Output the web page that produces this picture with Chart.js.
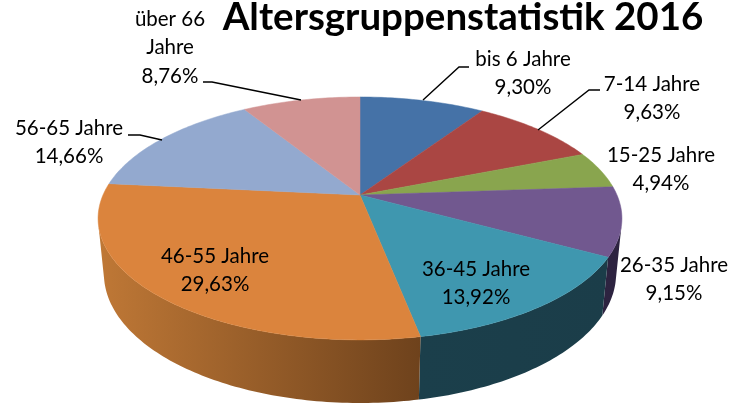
<!DOCTYPE html>
<html lang="de">

<head>
  <meta charset="UTF-8">
  <title>Altersgruppenstatistik 2016</title>
  <style>
    body { margin: 0; background: #fff; }
    canvas { display: block; }
  </style>
</head>

<body>
  <canvas id="pieChart" width="736" height="405"></canvas>
  <script src="https://cdn.jsdelivr.net/npm/chart.js"></script>
  <script>
    const titel = 'Altersgruppenstatistik 2016';
    const gruppen = ['bis 6 Jahre', '7-14 Jahre', '15-25 Jahre', '26-35 Jahre', '36-45 Jahre', '46-55 Jahre', '56-65 Jahre', 'über 66 Jahre'];
    const anteile = [9.30, 9.63, 4.94, 9.15, 13.92, 29.63, 14.66, 8.76];
    const farben = ['#4572A7', '#AA4643', '#89A54E', '#71588F', '#3F97AF', '#DB843D', '#93A9CF', '#D19392'];
    // Seitenwand: Farbe links und rechts
    const wandHell = ['#2B4870', '#722E2C', '#5B6E33', '#2D2340', '#1B3F4B', '#BF7836', '#61718A', '#8C6261'];
    const wandDunkel = ['#2B4870', '#722E2C', '#5B6E33', '#2D2340', '#1B3D49', '#6E421C', '#61718A', '#8C6261'];

    // Beschriftung: Mitte x, y der ersten Zeile, Zeilen
    const beschriftung = [
      { x: 523, y: 59, zeilen: ['bis 6 Jahre'] },
      { x: 652, y: 84, zeilen: ['7-14 Jahre'] },
      { x: 661, y: 155, zeilen: ['15-25 Jahre'] },
      { x: 674, y: 265, zeilen: ['26-35 Jahre'] },
      { x: 476, y: 269, zeilen: ['36-45 Jahre'] },
      { x: 215, y: 256, zeilen: ['46-55 Jahre'] },
      { x: 69, y: 128, zeilen: ['56-65 Jahre'] },
      { x: 170, y: 19, zeilen: ['über 66', 'Jahre'] }
    ];
    const fuehrungslinien = [
      [[469, 67], [459, 67], [423, 100]],
      [[600, 90], [589, 90], [538, 130]],
      [[203, 82], [212, 82], [301, 100]],
      [[128, 135], [140, 135], [162, 140]]
    ];

    // Perspektive der 3D-Torte
    const hoehe = 0.455;
    const neigung = 0.193;
    const tiefeY = 0.216;
    const tiefeZ = 0.022;

    function projiziere(el, winkel, z) {
      const u = Math.cos(winkel);
      const v = Math.sin(winkel);
      const r = el.outerRadius;
      const d = 1 - neigung * v + tiefeZ * z;
      return {
        x: el.x + r * u / d,
        y: el.y + r * (hoehe * v + tiefeY * z) / d
      };
    }

    function randPunkte(el, z) {
      const punkte = [];
      const schritte = Math.max(2, Math.ceil((el.endAngle - el.startAngle) * 60));
      for (let i = 0; i <= schritte; i++) {
        const w = el.startAngle + (el.endAngle - el.startAngle) * i / schritte;
        punkte.push(projiziere(el, w, z));
      }
      return punkte;
    }

    // Streifen zeigt nach vorn, wenn seine Fläche negativ ist
    function istVorne(a, b, c, d) {
      const q = [a, b, c, d];
      let summe = 0;
      q.forEach((p, i) => {
        const n = q[(i + 1) % 4];
        summe += p.x * n.y - n.x * p.y;
      });
      return summe < 0;
    }

    const torte3d = {
      id: 'torte3d',
      beforeDatasetsDraw(chart) {
        const ctx = chart.ctx;
        const bogen = chart.getDatasetMeta(0).data;

        // Seitenwände, nur der sichtbare vordere Teil
        bogen.forEach((el, i) => {
          const oben = randPunkte(el, 0);
          const unten = randPunkte(el, 1);
          const vorneOben = [];
          const vorneUnten = [];
          for (let k = 0; k < oben.length - 1; k++) {
            if (istVorne(oben[k], oben[k + 1], unten[k + 1], unten[k])) {
              if (!vorneOben.length) {
                vorneOben.push(oben[k]);
                vorneUnten.push(unten[k]);
              }
              vorneOben.push(oben[k + 1]);
              vorneUnten.push(unten[k + 1]);
            }
          }
          if (!vorneOben.length) return;

          const umriss = vorneOben.concat(vorneUnten.reverse());
          const xs = umriss.map(p => p.x);
          const grad = ctx.createLinearGradient(Math.min(...xs), 0, Math.max(...xs), 0);
          grad.addColorStop(0, wandHell[i]);
          grad.addColorStop(1, wandDunkel[i]);
          ctx.beginPath();
          umriss.forEach((p, k) => k ? ctx.lineTo(p.x, p.y) : ctx.moveTo(p.x, p.y));
          ctx.closePath();
          ctx.fillStyle = grad;
          ctx.fill();
        });

        bogen.forEach((el, i) => {
          ctx.beginPath();
          ctx.moveTo(el.x, el.y);
          randPunkte(el, 0).forEach(p => ctx.lineTo(p.x, p.y));
          ctx.closePath();
          ctx.fillStyle = farben[i];
          ctx.strokeStyle = farben[i];
          ctx.lineWidth = 0.5;
          ctx.fill();
          ctx.stroke();
        });

        // Führungslinien
        ctx.strokeStyle = '#000';
        ctx.lineWidth = 1.4;
        fuehrungslinien.forEach(linie => {
          ctx.beginPath();
          linie.forEach((p, k) => k ? ctx.lineTo(p[0], p[1]) : ctx.moveTo(p[0], p[1]));
          ctx.stroke();
        });

        // Beschriftungen
        ctx.fillStyle = '#000';
        ctx.textAlign = 'center';
        ctx.textBaseline = 'middle';
        ctx.font = '20.5px Lato';
        beschriftung.forEach((b, i) => {
          const zeilen = b.zeilen.concat(anteile[i].toFixed(2).replace('.', ',') + '%');
          zeilen.forEach((z, k) => ctx.fillText(z, b.x, b.y + k * 28.7));
        });

        ctx.font = 'bold 38.5px Lato';
        ctx.fillText(titel, 463, 18);
        return false;
      }
    };

    new Chart(document.getElementById('pieChart'), {
      type: 'pie',
      data: {
        labels: gruppen,
        datasets: [{
          data: anteile,
          backgroundColor: farben,
          borderWidth: 0,
          radius: 257
        }]
      },
      options: {
        responsive: false,
        animation: false,
        layout: { padding: { right: 16, bottom: 15 } },
        plugins: {
          legend: { display: false },
          tooltip: { enabled: false }
        }
      },
      plugins: [torte3d]
    });
  </script>
</body>

</html>
